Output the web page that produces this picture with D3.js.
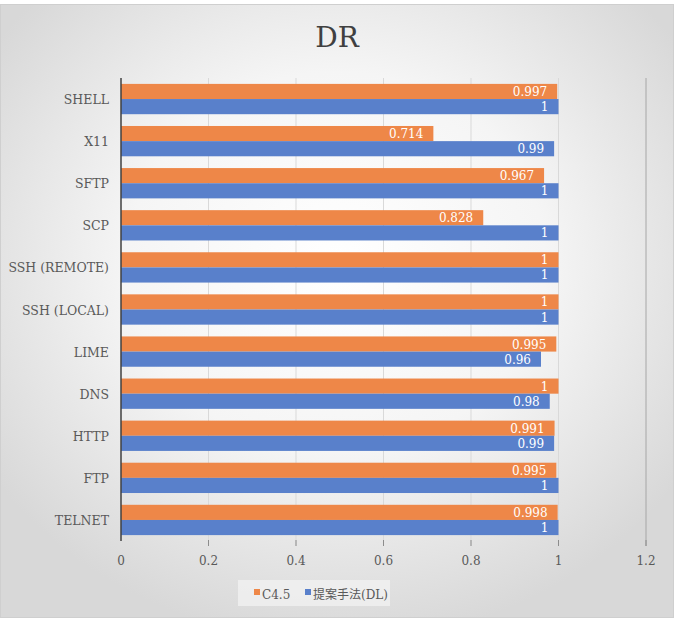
<!DOCTYPE html>
<html>
<head>
<meta charset="utf-8">
<script src="https://cdn.jsdelivr.net/npm/d3@7"></script>
<style>
  body { margin: 0; background: #fff; }
</style>
</head>
<body>
<div id="chart"></div>
<script>
// chart data (top to bottom)
const categories = ['SHELL', 'X11', 'SFTP', 'SCP', 'SSH (REMOTE)', 'SSH (LOCAL)', 'LIME', 'DNS', 'HTTP', 'FTP', 'TELNET'];
const seriesNames = ['C4.5', '提案手法(DL)'];
const c45Values = [0.997, 0.714, 0.967, 0.828, 1, 1, 0.995, 1, 0.991, 0.995, 0.998];
const dlValues = [1, 0.99, 1, 1, 1, 1, 0.96, 0.98, 0.99, 1, 1];
const xTicks = [0, 0.2, 0.4, 0.6, 0.8, 1, 1.2];
const colors = ['#EE8748', '#5980CB'];

const width = 676, height = 630;
const serif = "'DejaVu Serif', 'Noto Sans CJK JP'";

const svg = d3.select('#chart')
  .append('svg')
  .attr('width', width)
  .attr('height', height)
  .style('font-family', serif);

// background gradient like the office chart frame
const defs = svg.append('defs');
const grad = defs.append('radialGradient')
  .attr('id', 'bg')
  .attr('cx', '50%').attr('cy', '42%').attr('r', '62%');
grad.append('stop').attr('offset', '0%').attr('stop-color', '#ffffff');
grad.append('stop').attr('offset', '50%').attr('stop-color', '#f5f5f5');
grad.append('stop').attr('offset', '100%').attr('stop-color', '#d8d8d8');

svg.append('rect')
  .attr('x', 0.5).attr('y', 4.5)
  .attr('width', 673).attr('height', 613)
  .attr('fill', 'url(#bg)')
  .attr('stroke', '#cfcfcf');

// title
svg.append('text')
  .attr('x', 337).attr('y', 47)
  .attr('text-anchor', 'middle')
  .style('font-size', '28px')
  .style('fill', '#404040')
  .text('DR');

// scales
const x = d3.scaleLinear().domain([0, 1.2]).range([121, 646]);
const y = d3.scaleBand()
  .domain(categories)
  .range([78, 541])
  .paddingInner(0.28)
  .paddingOuter(0.14);
const ySub = d3.scaleBand()
  .domain(seriesNames)
  .range([0, y.bandwidth()]);

// gridlines
svg.append('g')
  .selectAll('line')
  .data(xTicks.slice(1))
  .enter()
  .append('line')
  .attr('x1', (d) => x(d)).attr('x2', (d) => x(d))
  .attr('y1', 78).attr('y2', 546)
  .attr('stroke', (d) => d === 1.2 ? '#a6a6a6' : '#d9d9d9')
  .attr('stroke-width', 1);

// tick marks
svg.append('g')
  .selectAll('line')
  .data(xTicks.slice(1))
  .enter()
  .append('line')
  .attr('x1', (d) => x(d)).attr('x2', (d) => x(d))
  .attr('y1', 540).attr('y2', 546)
  .attr('stroke', '#8c8c8c');

// bars
const rows = categories.map((c, i) => ({
  cat: c,
  values: [
    { name: seriesNames[0], value: c45Values[i], color: colors[0] },
    { name: seriesNames[1], value: dlValues[i], color: colors[1] },
  ],
}));

const groups = svg.append('g')
  .selectAll('g')
  .data(rows)
  .enter()
  .append('g')
  .attr('transform', (d) => `translate(0, ${y(d.cat)})`);

groups.selectAll('rect')
  .data((d) => d.values)
  .enter()
  .append('rect')
  .attr('x', x(0))
  .attr('y', (d) => ySub(d.name))
  .attr('width', (d) => x(d.value) - x(0))
  .attr('height', ySub.bandwidth())
  .attr('fill', (d) => d.color);

// value labels inside bar ends
groups.selectAll('text')
  .data((d) => d.values)
  .enter()
  .append('text')
  .attr('x', (d) => x(d.value) - 10)
  .attr('y', (d) => ySub(d.name) + ySub.bandwidth() / 2 + 4.5)
  .attr('text-anchor', 'end')
  .style('font-size', '12px')
  .style('fill', '#ffffff')
  .text((d) => d.value);

// left axis line
svg.append('line')
  .attr('x1', x(0)).attr('x2', x(0))
  .attr('y1', 78).attr('y2', 541)
  .attr('stroke', '#404040')
  .attr('stroke-width', 1.5);

// category labels
svg.append('g')
  .selectAll('text')
  .data(categories)
  .enter()
  .append('text')
  .attr('x', 109)
  .attr('y', (d) => y(d) + y.bandwidth() / 2 + 5)
  .attr('text-anchor', 'end')
  .style('font-size', '12.5px')
  .style('fill', '#595959')
  .text((d) => d);

// x tick labels
svg.append('g')
  .selectAll('text')
  .data(xTicks)
  .enter()
  .append('text')
  .attr('x', (d) => x(d))
  .attr('y', 565)
  .attr('text-anchor', 'middle')
  .style('font-size', '12px')
  .style('fill', '#595959')
  .text((d) => d);

// legend
svg.append('rect')
  .attr('x', 238).attr('y', 580)
  .attr('width', 152).attr('height', 26)
  .attr('fill', '#f4f4f4')
  .attr('opacity', 0.7);

const legendItems = [
  { name: seriesNames[0], color: colors[0], x: 254 },
  { name: seriesNames[1], color: colors[1], x: 305 },
];
const legend = svg.append('g')
  .selectAll('g')
  .data(legendItems)
  .enter()
  .append('g')
  .attr('transform', (d) => `translate(${d.x}, 0)`);
legend.append('rect')
  .attr('x', 0).attr('y', 589)
  .attr('width', 6).attr('height', 6)
  .attr('fill', (d) => d.color);
legend.append('text')
  .attr('x', 8).attr('y', 599)
  .style('font-size', '12px')
  .style('fill', '#595959')
  .text((d) => d.name);
</script>
</body>
</html>
